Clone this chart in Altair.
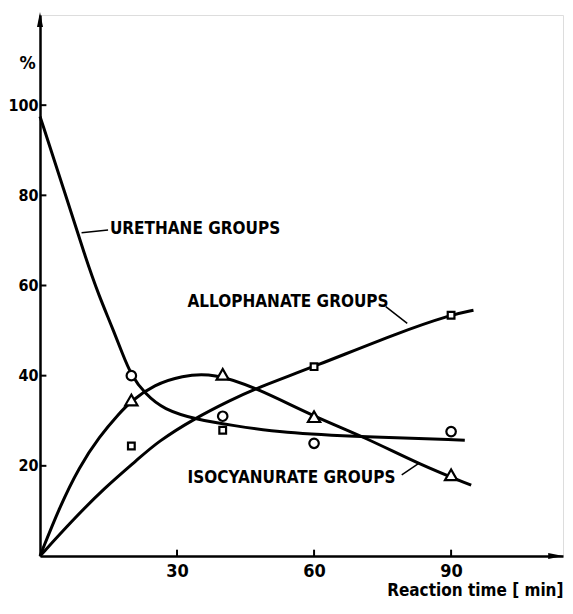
import altair as alt
import pandas as pd

# ---- data ----
# measured points
pt_time = [20, 40, 60, 90]
urethane_pts = [40.0, 31.0, 25.0, 27.6]
isocyanurate_pts = [34.6, 40.3, 30.9, 18.0]
allophanate_pts = [24.4, 27.9, 42.0, 53.4]

# smooth curves
ure_t = [0, 5, 10, 13, 15.5, 18, 20, 23, 27, 34.5, 42, 53, 71, 93]
ure_v = [97.5, 82.0, 66.0, 57.5, 51.5, 45.0, 40.0, 36.0, 32.5, 30.2, 29.0, 27.3, 26.4, 25.7]
iso_t = [0, 4.3, 8.6, 13, 17.4, 20, 25, 31, 38, 47.6, 60, 71, 83.3, 94.4]
iso_v = [0, 10.9, 19.8, 26.5, 31.7, 34.4, 38.0, 40.0, 40.6, 37.2, 30.9, 26.4, 20.2, 15.7]
allo_t = [0, 7, 14, 21.5, 25.7, 33.8, 41.8, 47.3, 60, 78.9, 90, 94.9]
allo_v = [0, 7.8, 15.0, 21.5, 25.3, 30.5, 34.6, 37.2, 42.0, 49.7, 53.5, 54.5]

x_ticks = [30, 60, 90]
y_ticks = [20, 40, 60, 80, 100]

labels = ["URETHANE   GROUPS", "ALLOPHANATE   GROUPS", "ISOCYANURATE   GROUPS"]
label_t = [15.3, 32.3, 32.3]
label_v = [72.5, 56.3, 17.3]
leader_t1 = [9.1, 75.7, 79.2]
leader_v1 = [71.7, 55.3, 18.0]
leader_t2 = [14.9, 80.4, 83.0]
leader_v2 = [72.3, 51.6, 20.6]

X_MAX = 114.5
Y_MAX = 120

FONT = "DejaVu Sans Condensed, Liberation Sans, sans-serif"

xs = alt.Scale(domain=[0, X_MAX], nice=False, zero=False)
ys = alt.Scale(domain=[0, Y_MAX], nice=False, zero=False)

curves = pd.concat([
    pd.DataFrame({"t": ure_t, "v": ure_v, "s": "ure"}),
    pd.DataFrame({"t": iso_t, "v": iso_v, "s": "iso"}),
    pd.DataFrame({"t": allo_t, "v": allo_v, "s": "allo"}),
])

base_x = alt.X("t:Q", scale=xs,
               axis=alt.Axis(values=x_ticks, ticks=False, grid=False,
                             domainColor="black", domainWidth=2.5,
                             labelFont=FONT, labelFontSize=18, labelFontWeight="bold",
                             labelColor="black", labelPadding=6,
                             title="Reaction time [ min]", titleAnchor="end",
                             titleFont=FONT, titleFontSize=17, titleFontWeight="bold",
                             titleColor="black", titlePadding=2))
base_y = alt.Y("v:Q", scale=ys,
               axis=alt.Axis(values=y_ticks, ticks=False, grid=False,
                             domainColor="black", domainWidth=2.5,
                             labelFont=FONT, labelFontSize=16, labelFontWeight="bold",
                             labelColor="black", labelPadding=2,
                             title="%", titleAngle=0, titleX=-13, titleY=48,
                             titleAlign="center", titleBaseline="middle",
                             titleFont=FONT, titleFontSize=18, titleFontWeight="bold",
                             titleColor="black"))

lines = alt.Chart(curves).mark_line(color="black", strokeWidth=3, interpolate="basis").encode(
    x=base_x, y=base_y, detail="s:N")

def pts(vals, shape, size):
    df = pd.DataFrame({"t": pt_time, "v": vals})
    return alt.Chart(df).mark_point(shape=shape, size=size, filled=True, fill="white",
                                    stroke="black", strokeWidth=2.2, opacity=1).encode(
        x=alt.X("t:Q", scale=xs), y=alt.Y("v:Q", scale=ys))

circ = pts(urethane_pts, "circle", 90)
tri = pts(isocyanurate_pts, "triangle-up", 150)
sq = pts(allophanate_pts, "square", 45)

# inward tick marks
xt = alt.Chart(pd.DataFrame({"t": x_ticks, "v0": 0, "v1": 1.4})).mark_rule(color="black", strokeWidth=2).encode(
    x=alt.X("t:Q", scale=xs), y=alt.Y("v0:Q", scale=ys), y2="v1:Q")
yt = alt.Chart(pd.DataFrame({"v": y_ticks, "t0": 0, "t1": 1.4})).mark_rule(color="black", strokeWidth=2).encode(
    y=alt.Y("v:Q", scale=ys), x=alt.X("t0:Q", scale=xs), x2="t1:Q")

# arrow heads
arr_x = alt.Chart(pd.DataFrame({"t": [112.9], "v": [0]})).mark_point(
    shape="M-1,-0.4L1,0L-1,0.4Z", size=225, filled=True, color="black", opacity=1).encode(
    x=alt.X("t:Q", scale=xs), y=alt.Y("v:Q", scale=ys))
arr_y = alt.Chart(pd.DataFrame({"t": [0], "v": [119.0]})).mark_point(
    shape="M-0.4,1L0,-1L0.4,1Z", size=225, filled=True, color="black", opacity=1).encode(
    x=alt.X("t:Q", scale=xs), y=alt.Y("v:Q", scale=ys))

lab = alt.Chart(pd.DataFrame({"t": label_t, "v": label_v, "txt": labels})).mark_text(
    align="left", baseline="middle", font=FONT, fontSize=17, fontWeight="bold", color="black").encode(
    x=alt.X("t:Q", scale=xs), y=alt.Y("v:Q", scale=ys), text="txt:N")
lead = alt.Chart(pd.DataFrame({"t1": leader_t1, "v1": leader_v1, "t2": leader_t2, "v2": leader_v2})).mark_rule(
    color="black", strokeWidth=1.5).encode(
    x=alt.X("t1:Q", scale=xs), y=alt.Y("v1:Q", scale=ys), x2="t2:Q", y2="v2:Q")

chart = alt.layer(lines, xt, yt, arr_x, arr_y, lead, lab, circ, tri, sq).properties(
    width=523, height=541,
    autosize=alt.AutoSizeParams(type="none"),
    padding={"left": 32, "top": 7, "right": 2, "bottom": 50},
).configure_view(stroke=None).configure(background="white")

chart.save("out.html", embed_options={"renderer": "svg", "actions": False})
